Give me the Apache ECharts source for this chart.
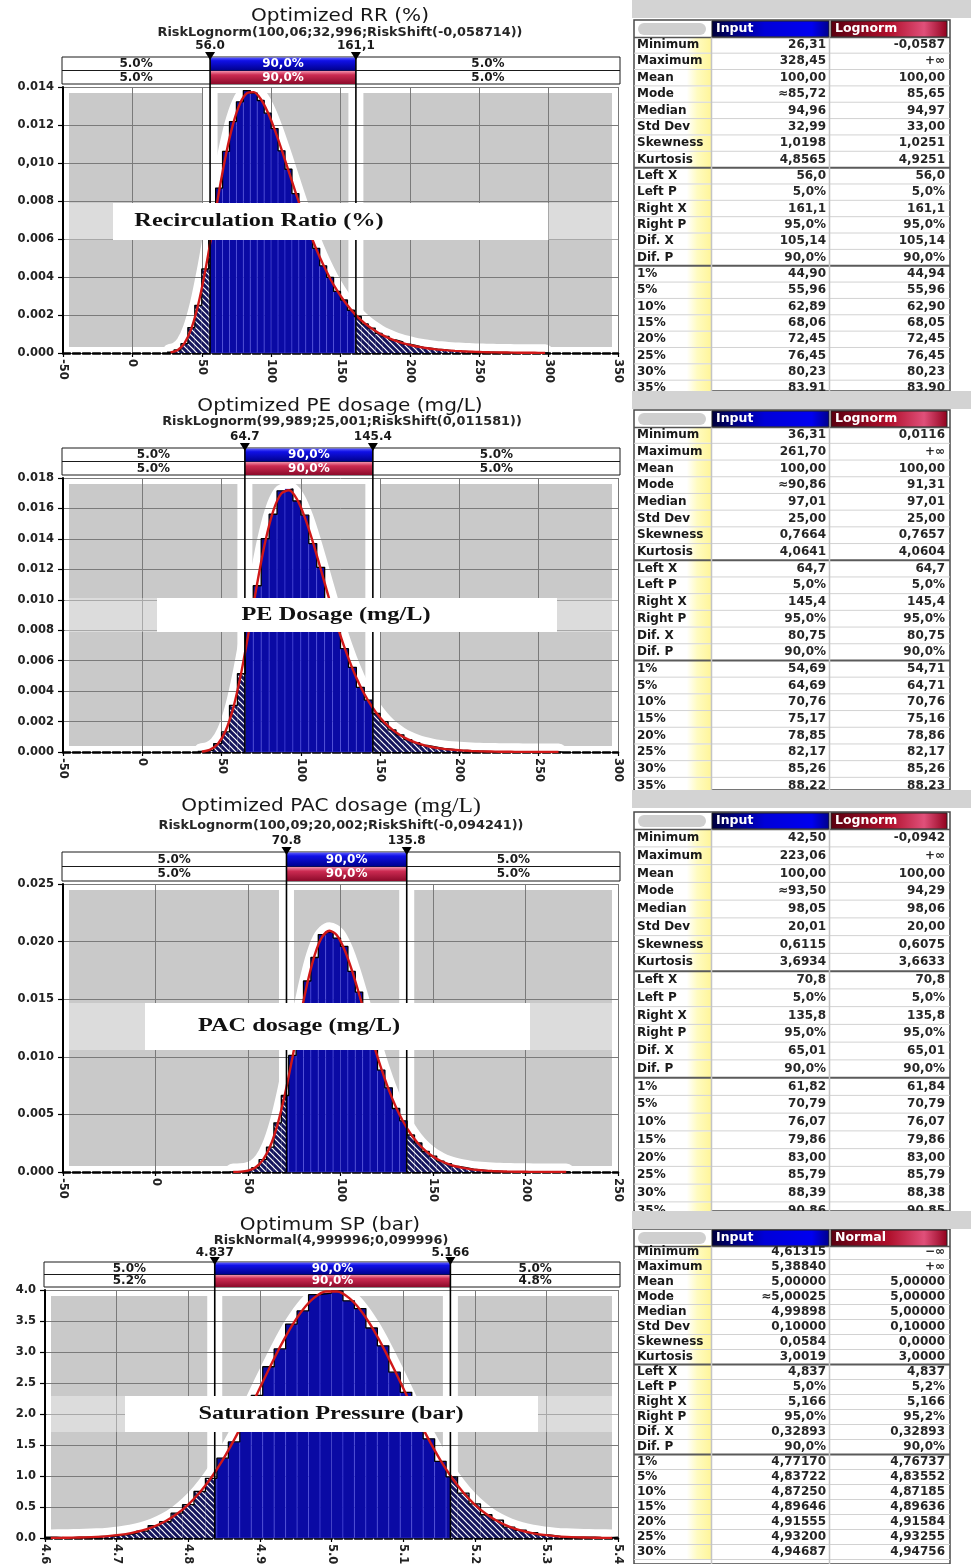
<!DOCTYPE html>
<html><head><meta charset="utf-8">
<script src="https://cdn.jsdelivr.net/npm/echarts@6.0.0/dist/echarts.min.js"></script>
<style>html,body{margin:0;padding:0;background:#fff}#c{width:971px;height:1564px}</style>
</head><body><div id="c"></div>
<script>
// ---------------- DATA ----------------
const chartTitles = ["Optimized RR (%)", "Optimized PE dosage (mg/L)", "Optimized PAC dosage (mg/L)", "Optimum SP (bar)"];
const fitFormulas = ["RiskLognorm(100,06;32,996;RiskShift(-0,058714))", "RiskLognorm(99,989;25,001;RiskShift(0,011581))", "RiskLognorm(100,09;20,002;RiskShift(-0,094241))", "RiskNormal(4,999996;0,099996)"];
const boxLabels = ["Recirculation Ratio (%)", "PE Dosage (mg/L)", "PAC dosage (mg/L)", "Saturation Pressure (bar)"];
const markerValues = [[56.0, 161.1], [64.7, 145.4], [70.8, 135.8], [4.837, 5.166]];
const markerLabels = [["56.0", "161,1"], ["64.7", "145.4"], ["70.8", "135.8"], ["4.837", "5.166"]];
const probTop = [["5.0%", "90,0%", "5.0%"], ["5.0%", "90,0%", "5.0%"], ["5.0%", "90,0%", "5.0%"], ["5.0%", "90,0%", "5.0%"]];
const probBottom = [["5.0%", "90,0%", "5.0%"], ["5.0%", "90,0%", "5.0%"], ["5.0%", "90,0%", "5.0%"], ["5.2%", "90,0%", "4.8%"]];

const xRanges = [[-50, 350, 50], [-50, 300, 50], [-50, 250, 50], [4.6, 5.4, 0.1]];
const yRanges = [[0, 0.014, 0.002], [0, 0.018, 0.002], [0, 0.025, 0.005], [0, 4, 0.5]];
const xTickLabels = [
  ["-50", "0", "50", "100", "150", "200", "250", "300", "350"],
  ["-50", "0", "50", "100", "150", "200", "250", "300"],
  ["-50", "0", "50", "100", "150", "200", "250"],
  ["4.6", "4.7", "4.8", "4.9", "5.0", "5.1", "5.2", "5.3", "5.4"]
];
const yTickLabels = [
  ["0.000", "0.002", "0.004", "0.006", "0.008", "0,010", "0.012", "0.014"],
  ["0.000", "0.002", "0.004", "0.006", "0.008", "0.010", "0.012", "0.014", "0.016", "0.018"],
  ["0.000", "0.005", "0.010", "0.015", "0.020", "0.025"],
  ["0.0", "0.5", "1.0", "1.5", "2.0", "2.5", "3.0", "3.5", "4.0"]
];

// histogram bins: first bin lower edge and bin width per panel
const binStarts = [25, 35, 40, 4.6];
const binWidths = [5, 5, 4, 0.016];

const rrHist = [0.00004, 0.00016, 0.00049, 0.00134, 0.00251, 0.00442, 0.00631, 0.00868, 0.01061, 0.01218,
  0.01322, 0.01381, 0.01368, 0.01329, 0.01262, 0.01181, 0.01064, 0.00967, 0.00839, 0.00746,
  0.00632, 0.00551, 0.00459, 0.00398, 0.00324, 0.00279, 0.00225, 0.00192, 0.00153, 0.00131,
  0.00103, 0.00088, 0.00069, 0.00059, 0.00046, 0.00039, 0.00030, 0.00026, 0.00020, 0.00017,
  0.00013, 0.00011, 0.00009, 0.00007, 0.00006, 0.00005, 0.00004, 0.00003, 0.00003, 0.00002,
  0.00002, 0.00001, 0.00001, 0.00001, 0.00001];
const rrFit = [0.00003, 0.000146, 0.000508, 0.00128, 0.002563, 0.004321, 0.006386, 0.008516, 0.01046, 0.012033,
  0.013112, 0.013668, 0.013729, 0.01337, 0.012684, 0.011769, 0.010716, 0.009599, 0.008481, 0.007403,
  0.006396, 0.005475, 0.004652, 0.003924, 0.003292, 0.002747, 0.002283, 0.00189, 0.00156, 0.001284,
  0.001053, 0.000863, 0.000706, 0.000576, 0.00047, 0.000383, 0.000311, 0.000253, 0.000206, 0.000167,
  0.000136, 0.00011, 0.00009, 0.000073, 0.000059, 0.000048, 0.000039, 0.000032, 0.000026, 0.000021,
  0.000017, 0.000014, 0.000011, 0.000009, 0.000007];

const peHist = [0.00004, 0.00013, 0.00055, 0.00132, 0.00306, 0.00514, 0.00829, 0.01092, 0.01401, 0.01562,
  0.01716, 0.01728, 0.01649, 0.01556, 0.01369, 0.01213, 0.01007, 0.00858, 0.00679, 0.00556,
  0.00425, 0.00341, 0.00253, 0.00199, 0.00145, 0.00113, 0.00081, 0.00062, 0.00044, 0.00034,
  0.00023, 0.00018, 0.00012, 0.00010, 0.00006, 0.00005, 0.00003, 0.00003, 0.00002, 0.00001,
  0.00001, 0.00001, 0.00001, 0, 0, 0.00001];
const peFit = [0.000025, 0.000138, 0.000508, 0.001376, 0.00295, 0.005263, 0.008107, 0.0111, 0.013792, 0.015813,
  0.016958, 0.017191, 0.016615, 0.015418, 0.013819, 0.01202, 0.010191, 0.008447, 0.006867, 0.005488,
  0.004323, 0.003359, 0.002582, 0.001964, 0.001483, 0.001111, 0.000827, 0.000612, 0.00045, 0.00033,
  0.000241, 0.000175, 0.000127, 0.000092, 0.000067, 0.000048, 0.000035, 0.000025, 0.000018, 0.000013,
  0.000009, 0.0000065, 0.0000046, 0.0000033, 0.0000023, 0.0000016];

const pacHist = [0.00001, 0.00003, 0.00014, 0.00037, 0.00108, 0.00216, 0.00427, 0.00664, 0.01012, 0.01297,
  0.01658, 0.01862, 0.02061, 0.02083, 0.02031, 0.01958, 0.01741, 0.01562, 0.01309, 0.01121,
  0.00884, 0.00731, 0.00551, 0.00443, 0.00321, 0.00252, 0.00178, 0.00138, 0.00094, 0.00072,
  0.00048, 0.00037, 0.00024, 0.00018, 0.00012, 0.00009, 0.00005, 0.00004, 0.00003, 0.00002,
  0.00001, 0.00001, 0.00001, 0, 0, 0.00001];
const pacFit = [0.000005, 0.0000295, 0.000124, 0.000399, 0.001033, 0.00223, 0.004138, 0.006762, 0.009914, 0.013246,
  0.016341, 0.018808, 0.020379, 0.020947, 0.020555, 0.019362, 0.01759, 0.015475, 0.013231, 0.011029,
  0.008986, 0.007174, 0.005624, 0.004337, 0.003295, 0.002471, 0.00183, 0.001342, 0.000974, 0.000701,
  0.0005, 0.000355, 0.00025, 0.000175, 0.000122, 0.0000844, 0.0000583, 0.00004, 0.0000273, 0.0000185,
  0.0000125, 0.0000084, 0.0000056, 0.0000037, 0.0000025, 0.0000016];

const spHist = [0.0125, 0, 0.0125, 0.0125, 0.025, 0.025, 0.05, 0.075, 0.1125, 0.2,
  0.2625, 0.4, 0.5375, 0.75, 0.9625, 1.2875, 1.55, 1.975, 2.3, 2.7625,
  3.05, 3.45, 3.6625, 3.925, 3.95, 3.9875, 3.825, 3.7, 3.3875, 3.1,
  2.675, 2.35, 1.925, 1.6, 1.2375, 0.9875, 0.725, 0.55, 0.375, 0.2875,
  0.175, 0.125, 0.0875, 0.05, 0.025, 0.0125, 0.0125, 0.0125, 0, 0.0125];
const spFit = [0.00184, 0.00339, 0.00612, 0.01074, 0.0184, 0.03071, 0.04995, 0.07915, 0.1223, 0.18424,
  0.27055, 0.38713, 0.53991, 0.73394, 0.97274, 1.25656, 1.58224, 1.94186, 2.32289, 2.70866,
  3.07853, 3.41047, 3.68273, 3.87617, 3.9767, 3.9767, 3.87617, 3.68273, 3.41047, 3.07853,
  2.70866, 2.32289, 1.94186, 1.58224, 1.25656, 0.97274, 0.73394, 0.53991, 0.38713, 0.27055,
  0.18424, 0.1223, 0.07915, 0.04995, 0.03071, 0.0184, 0.01074, 0.00612, 0.00339, 0.00184];

// statistics tables
const statRowLabels = ["Minimum", "Maximum", "Mean", "Mode", "Median", "Std Dev", "Skewness", "Kurtosis", "Left X", "Left P", "Right X", "Right P", "Dif. X", "Dif. P", "1%", "5%", "10%", "15%", "20%", "25%", "30%", "35%"];
const fitNames = ["Lognorm", "Lognorm", "Lognorm", "Normal"];
const rrInputStats = ["26,31", "328,45", "100,00", "≈85,72", "94,96", "32,99", "1,0198", "4,8565", "56,0", "5,0%", "161,1", "95,0%", "105,14", "90,0%", "44,90", "55,96", "62,89", "68,06", "72,45", "76,45", "80,23", "83,91"];
const rrFitStats = ["-0,0587", "+∞", "100,00", "85,65", "94,97", "33,00", "1,0251", "4,9251", "56,0", "5,0%", "161,1", "95,0%", "105,14", "90,0%", "44,94", "55,96", "62,90", "68,05", "72,45", "76,45", "80,23", "83,90"];
const peInputStats = ["36,31", "261,70", "100,00", "≈90,86", "97,01", "25,00", "0,7664", "4,0641", "64,7", "5,0%", "145,4", "95,0%", "80,75", "90,0%", "54,69", "64,69", "70,76", "75,17", "78,85", "82,17", "85,26", "88,22"];
const peFitStats = ["0,0116", "+∞", "100,00", "91,31", "97,01", "25,00", "0,7657", "4,0604", "64,7", "5,0%", "145,4", "95,0%", "80,75", "90,0%", "54,71", "64,71", "70,76", "75,16", "78,86", "82,17", "85,26", "88,23"];
const pacInputStats = ["42,50", "223,06", "100,00", "≈93,50", "98,05", "20,01", "0,6115", "3,6934", "70,8", "5,0%", "135,8", "95,0%", "65,01", "90,0%", "61,82", "70,79", "76,07", "79,86", "83,00", "85,79", "88,39", "90,86"];
const pacFitStats = ["-0,0942", "+∞", "100,00", "94,29", "98,06", "20,00", "0,6075", "3,6633", "70,8", "5,0%", "135,8", "95,0%", "65,01", "90,0%", "61,84", "70,79", "76,07", "79,86", "83,00", "85,79", "88,38", "90,85"];
const spInputStats = ["4,61315", "5,38840", "5,00000", "≈5,00025", "4,99898", "0,10000", "0,0584", "3,0019", "4,837", "5,0%", "5,166", "95,0%", "0,32893", "90,0%", "4,77170", "4,83722", "4,87250", "4,89646", "4,91555", "4,93200", "4,94687"];
const spFitStats = ["−∞", "+∞", "5,00000", "5,00000", "5,00000", "0,10000", "0,0000", "3,0000", "4,837", "5,2%", "5,166", "95,2%", "0,32893", "90,0%", "4,76737", "4,83552", "4,87185", "4,89636", "4,91584", "4,93255", "4,94756"];

const histValues = [rrHist, peHist, pacHist, spHist];
const fitValues = [rrFit, peFit, pacFit, spFit];
const inputStats = [rrInputStats, peInputStats, pacInputStats, spInputStats];
const fitStats = [rrFitStats, peFitStats, pacFitStats, spFitStats];

// ---------------- LAYOUT ----------------
const gridBoxes = [
  { left: 63, top: 87, width: 555, height: 266, rowH: 13.5, lblOff: 11 },
  { left: 63, top: 478, width: 555, height: 274, rowH: 13.5, lblOff: 11 },
  { left: 63, top: 884, width: 555, height: 288, rowH: 14.5, lblOff: 11 },
  { left: 45, top: 1290, width: 573, height: 248, rowH: 12.5, lblOff: 9 }
];
const titleLayout = [
  { tx: 340, ty: 17, sx: 340, sy: 33 },
  { tx: 340, ty: 407, sx: 342, sy: 422 },
  { tx: 331, ty: 807, sx: 341, sy: 826 },
  { tx: 330, ty: 1226, sx: 331, sy: 1241 }
];
const boxLayout = [
  { x0: 113, y0: 203, x1: 548, y1: 240, tx: 259 },
  { x0: 157, y0: 598, x1: 557, y1: 632, tx: 336 },
  { x0: 145, y0: 1003, x1: 530, y1: 1050, tx: 299 },
  { x0: 125, y0: 1396, x1: 538, y1: 1432, tx: 331 }
];
const tableLayout = [
  { barY: 0, headY: 29, row0: 45, rowH: 16.35, bottom: 391 },
  { barY: 391, headY: 419, row0: 435, rowH: 16.7, bottom: 790 },
  { barY: 790, headY: 821, row0: 838, rowH: 17.75, bottom: 1211 },
  { barY: 1211, headY: 1238, row0: 1252, rowH: 15.0, bottom: 1564 }
];

const BLUE = '#0a0aa4';
const hc = document.createElement('canvas');
hc.width = 6; hc.height = 6;
(function () {
  const g = hc.getContext('2d');
  g.fillStyle = '#14145c'; g.fillRect(0, 0, 6, 6);
  g.strokeStyle = '#ffffff'; g.lineWidth = 1.2;
  g.beginPath();
  g.moveTo(0, 0); g.lineTo(6, 6);
  g.moveTo(-3, 3); g.lineTo(3, 9);
  g.moveTo(3, -3); g.lineTo(9, 3);
  g.stroke();
})();
const hatch = { image: hc, repeat: 'repeat' };
const blueGrad = new echarts.graphic.LinearGradient(0, 0, 0, 1, [
  { offset: 0, color: '#5a5aff' }, { offset: 0.25, color: '#1010e6' }, { offset: 1, color: '#00008c' }]);
const redGrad = new echarts.graphic.LinearGradient(0, 0, 0, 1, [
  { offset: 0, color: '#f391ab' }, { offset: 0.3, color: '#cc2b52' }, { offset: 1, color: '#8c0a2a' }]);

const SANS = '"DejaVu Sans", Verdana, sans-serif';

// ---------------- RENDERERS ----------------
function bandsRender(i) {
  return function (params, api) {
    const cs = params.coordSys;
    const ch = [{ type: 'rect', shape: { x: cs.x, y: cs.y, width: cs.width, height: cs.height }, style: { fill: 'none', stroke: '#fff', lineWidth: 12 } }];
    [api.value(0), api.value(1)].forEach(function (v) {
      const x = api.coord([v, 0])[0];
      ch.push({ type: 'rect', shape: { x: x - 7.5, y: cs.y, width: 15, height: cs.height }, style: { fill: '#fff' } });
    });
    return { type: 'group', children: ch };
  };
}

function histRender(i) {
  const L = markerValues[i][0], R = markerValues[i][1];
  return function (params, api) {
    const x0 = api.value(0), x1 = api.value(1), h = api.value(2);
    if (!(h > 0)) return null;
    const cuts = [x0];
    if (L > x0 && L < x1) cuts.push(L);
    if (R > x0 && R < x1) cuts.push(R);
    cuts.push(x1);
    const ch = [];
    for (let k = 0; k < cuts.length - 1; k++) {
      const a = cuts[k], b = cuts[k + 1], mid = (a + b) / 2;
      const inside = mid >= L && mid <= R;
      const p0 = api.coord([a, h]), p1 = api.coord([b, 0]);
      ch.push({
        type: 'rect',
        shape: { x: p0[0], y: p0[1], width: p1[0] - p0[0], height: p1[1] - p0[1] },
        style: inside ? { fill: BLUE, stroke: 'rgba(110,110,255,0.55)', lineWidth: 0.6 } : { fill: hatch }
      });
    }
    return { type: 'group', children: ch };
  };
}

function overlayRender(i) {
  return function (params, api) {
    const cs = params.coordSys;
    const rh = gridBoxes[i].rowH;
    const xl = api.coord([api.value(0), 0])[0];
    const xr = api.coord([api.value(1), 0])[0];
    const left = cs.x - 1, right = cs.x + cs.width + 2;
    const y1 = cs.y - 3 - 2 * rh, y2 = y1 + rh, yb = cs.y + cs.height;
    const font = 'bold 12px ' + SANS;
    const ch = [];
    ch.push({ type: 'rect', shape: { x: left, y: y1, width: right - left, height: 2 * rh }, style: { fill: '#fff', stroke: '#1a1a1a', lineWidth: 1 } });
    ch.push({ type: 'line', shape: { x1: left, y1: y2, x2: right, y2: y2 }, style: { stroke: '#1a1a1a', lineWidth: 1 } });
    ch.push({ type: 'rect', shape: { x: xl, y: y1 + 0.5, width: xr - xl, height: rh - 0.5 }, style: { fill: blueGrad } });
    ch.push({ type: 'rect', shape: { x: xl, y: y2 + 0.5, width: xr - xl, height: rh - 0.5 }, style: { fill: redGrad } });
    const cxs = [(left + xl) / 2, (xl + xr) / 2, (xr + right) / 2];
    for (let k = 0; k < 3; k++) {
      ch.push({ type: 'text', x: cxs[k], y: y1 + rh / 2 + 0.5, style: { text: probTop[i][k], font: font, fill: k === 1 ? '#fff' : '#1a1a1a', align: 'center', verticalAlign: 'middle' } });
      ch.push({ type: 'text', x: cxs[k], y: y2 + rh / 2 + 0.5, style: { text: probBottom[i][k], font: font, fill: k === 1 ? '#fff' : '#1a1a1a', align: 'center', verticalAlign: 'middle' } });
    }
    [xl, xr].forEach(function (x, m) {
      ch.push({ type: 'line', shape: { x1: x, y1: y1 - 3, x2: x, y2: yb }, style: { stroke: '#000', lineWidth: 1.6 } });
      ch.push({ type: 'polygon', shape: { points: [[x - 5, y1 - 5], [x + 5, y1 - 5], [x, y1 + 3]] }, style: { fill: '#000' } });
      ch.push({ type: 'text', x: x, y: y1 - gridBoxes[i].lblOff, style: { text: markerLabels[i][m], font: font, fill: '#1a1a1a', align: 'center', verticalAlign: 'middle' } });
    });
    return { type: 'group', children: ch };
  };
}

// ---------------- OPTION ----------------
const grids = [], xAxes = [], yAxes = [], series = [], elements = [];

for (let i = 0; i < 4; i++) {
  const gb = gridBoxes[i];
  grids.push({ left: gb.left, top: gb.top, width: gb.width, height: gb.height, show: true, backgroundColor: '#c9c9c9', borderWidth: 0, containLabel: false, outerBoundsMode: 'none' });
  const xr = xRanges[i], yr = yRanges[i];
  xAxes.push({
    type: 'value', gridIndex: i, min: xr[0], max: xr[1], interval: xr[2], z: 3,
    axisLine: { show: true, onZero: false, lineStyle: { color: '#000', width: 2.5, type: [7, 3] } },
    axisTick: { show: true, length: 4, lineStyle: { color: '#000', width: 1.2 } },
    axisLabel: {
      rotate: -90, margin: 6, color: '#222', fontWeight: 'bold', fontSize: 11.5, fontFamily: SANS,
      formatter: (function (labels, mn, step) { return function (v) { return labels[Math.round((v - mn) / step)]; }; })(xTickLabels[i], xr[0], xr[2])
    },
    splitLine: { show: true, lineStyle: { color: '#7a7a7a', width: 1 } }
  });
  yAxes.push({
    type: 'value', gridIndex: i, min: yr[0], max: yr[1], interval: yr[2], z: 3,
    axisLine: { show: true, onZero: false, lineStyle: { color: '#000', width: 2 } },
    axisTick: { show: true, length: 5, lineStyle: { color: '#000', width: 1.2 } },
    axisLabel: {
      margin: 9, color: '#222', fontWeight: 'bold', fontSize: 11.5, fontFamily: SANS,
      formatter: (function (labels, mn, step) { return function (v) { return labels[Math.round((v - mn) / step)]; }; })(yTickLabels[i], yr[0], yr[2])
    },
    splitLine: { show: true, lineStyle: { color: '#7a7a7a', width: 1 } }
  });

  const start = binStarts[i], w = binWidths[i];
  const histData = histValues[i].map(function (h, k) { return [start + k * w, start + (k + 1) * w, h]; });
  const fitData = fitValues[i].map(function (v, k) { return [start + (k + 0.5) * w, v]; });
  const stepData = histValues[i].map(function (h, k) { return [start + k * w, h]; });
  stepData.push([start + histValues[i].length * w, histValues[i][histValues[i].length - 1]]);

  series.push({ type: 'custom', xAxisIndex: i, yAxisIndex: i, z: 1, silent: true, renderItem: bandsRender(i), data: [markerValues[i]] });
  series.push({ type: 'line', xAxisIndex: i, yAxisIndex: i, z: 1, silent: true, smooth: 0.3, showSymbol: false, data: fitData,
    lineStyle: { color: '#fff', width: 17, cap: 'round', join: 'round' }, areaStyle: { color: '#fff', opacity: 1 } });
  series.push({ type: 'custom', xAxisIndex: i, yAxisIndex: i, z: 5, silent: true, renderItem: histRender(i), encode: { x: [0, 1], y: 2 }, data: histData });
  series.push({ type: 'line', xAxisIndex: i, yAxisIndex: i, z: 6, silent: true, step: 'end', showSymbol: false, data: stepData,
    lineStyle: { color: '#000', width: 1.3 } });
  series.push({ type: 'line', xAxisIndex: i, yAxisIndex: i, z: 7, silent: true, smooth: 0.3, showSymbol: false, data: fitData,
    lineStyle: { color: '#d01818', width: 2.4 } });
  series.push({ type: 'custom', xAxisIndex: i, yAxisIndex: i, z: 8, silent: true, clip: false, renderItem: overlayRender(i), data: [markerValues[i]] });

  // titles
  const tl = titleLayout[i];
  const t = chartTitles[i];
  if (i === 2) {
    const cut = t.lastIndexOf(' ');
    elements.push({ type: 'text', x: tl.tx, y: tl.ty, scaleX: 1.18, z: 50, style: {
      text: '{a|' + t.slice(0, cut + 1) + '}{b|' + t.slice(cut + 1) + '}', align: 'center', verticalAlign: 'middle',
      rich: { a: { font: '17px ' + SANS, fill: '#161616' }, b: { font: '20px "Liberation Serif", serif', fill: '#161616' } } } });
  } else {
    elements.push({ type: 'text', x: tl.tx, y: tl.ty, scaleX: 1.18, z: 50, style: { text: t, font: '17px ' + SANS, fill: '#161616', align: 'center', verticalAlign: 'middle' } });
  }
  elements.push({ type: 'text', x: tl.sx, y: tl.sy, scaleX: 1.07, z: 50, style: { text: fitFormulas[i], font: '600 12px ' + SANS, fill: '#262626', align: 'center', verticalAlign: 'middle' } });

  // label box
  const bl = boxLayout[i];
  elements.push({ type: 'rect', z: 30, shape: { x: gb.left + 2, y: bl.y0, width: gb.width - 2, height: bl.y1 - bl.y0 }, style: { fill: 'rgba(255,255,255,0.35)' } });
  elements.push({ type: 'rect', z: 31, shape: { x: bl.x0, y: bl.y0, width: bl.x1 - bl.x0, height: bl.y1 - bl.y0 }, style: { fill: '#fff' } });
  elements.push({ type: 'text', z: 32, x: bl.tx, y: (bl.y0 + bl.y1) / 2, scaleX: 1.35, style: { text: boxLabels[i], font: 'bold 18px "Liberation Serif", "DejaVu Serif", serif', fill: '#111', align: 'center', verticalAlign: 'middle' } });
}

// tables
for (let t = 0; t < 4; t++) {
  const L = tableLayout[t];
  const top = L.headY - 9;
  const font = 'bold 12px ' + SANS;
  elements.push({ type: 'rect', z: 40, shape: { x: 634, y: top, width: 316, height: L.bottom - top }, style: { fill: '#fff', stroke: '#4a4a4a', lineWidth: 1.5 } });
  elements.push({ type: 'rect', z: 41, shape: { x: 638, y: L.headY - 6, width: 68, height: 12, r: 6 }, style: { fill: '#cfcfcf' } });
  elements.push({ type: 'rect', z: 41, shape: { x: 712, y: L.headY - 8, width: 117, height: 16 }, style: { stroke: '#222', lineWidth: 1,
    fill: new echarts.graphic.LinearGradient(0, 0, 1, 0, [{ offset: 0, color: '#00003a' }, { offset: 0.45, color: '#0000d8' }, { offset: 0.85, color: '#0000f0' }, { offset: 1, color: '#00008a' }]) } });
  elements.push({ type: 'rect', z: 41, shape: { x: 831, y: L.headY - 8, width: 116, height: 16 }, style: { stroke: '#222', lineWidth: 1,
    fill: new echarts.graphic.LinearGradient(0, 0, 1, 0, [{ offset: 0, color: '#5a0010' }, { offset: 0.5, color: '#b0102c' }, { offset: 0.8, color: '#e0507a' }, { offset: 1, color: '#90001c' }]) } });
  elements.push({ type: 'text', z: 42, x: 716, y: L.headY, style: { text: 'Input', font: 'bold 12.5px ' + SANS, fill: '#fff', align: 'left', verticalAlign: 'middle' } });
  elements.push({ type: 'text', z: 42, x: 835, y: L.headY, style: { text: fitNames[t], font: 'bold 12.5px ' + SANS, fill: '#fff', align: 'left', verticalAlign: 'middle' } });
  elements.push({ type: 'line', z: 42, shape: { x1: 634, y1: L.headY + 8.5, x2: 950, y2: L.headY + 8.5 }, style: { stroke: '#555', lineWidth: 1.5 } });
  const ins = inputStats[t], fts = fitStats[t];
  for (let r = 0; r < ins.length; r++) {
    const cy = L.row0 + r * L.rowH;
    const yt = cy - L.rowH / 2, yb = cy + L.rowH / 2;
    elements.push({ type: 'rect', z: 41, shape: { x: 635, y: yt + 0.5, width: 76, height: L.rowH - 1 }, style: {
      fill: new echarts.graphic.LinearGradient(0, 0, 1, 0, [{ offset: 0, color: '#ffffff' }, { offset: 0.68, color: '#ffffff' }, { offset: 0.82, color: '#fffbc0' }, { offset: 1, color: '#fff59a' }]) } });
    elements.push({ type: 'text', z: 43, x: 637, y: cy, style: { text: statRowLabels[r], font: font, fill: '#1a1a1a', align: 'left', verticalAlign: 'middle' } });
    elements.push({ type: 'text', z: 43, x: 826, y: cy, style: { text: ins[r], font: font, fill: '#262626', align: 'right', verticalAlign: 'middle' } });
    elements.push({ type: 'text', z: 43, x: 945, y: cy, style: { text: fts[r], font: font, fill: '#262626', align: 'right', verticalAlign: 'middle' } });
    const sep = (r === 7 || r === 13);
    elements.push({ type: 'line', z: 42, shape: { x1: 634, y1: yb, x2: 950, y2: yb }, style: { stroke: sep ? '#5a5a5a' : '#d2d2d2', lineWidth: sep ? 2 : 1 } });
  }
  elements.push({ type: 'line', z: 42, shape: { x1: 711.5, y1: L.headY + 8.5, x2: 711.5, y2: L.bottom }, style: { stroke: '#c4c4c4', lineWidth: 1.5 } });
  elements.push({ type: 'line', z: 42, shape: { x1: 829.5, y1: L.headY + 8.5, x2: 829.5, y2: L.bottom }, style: { stroke: '#c4c4c4', lineWidth: 1.5 } });
  elements.push({ type: 'rect', z: 60, shape: { x: 632, y: L.barY, width: 339, height: 18 }, style: { fill: '#d3d3d3' } });
}

const chart = echarts.init(document.getElementById('c'), null, { renderer: 'canvas', width: 971, height: 1564 });
chart.setOption({
  animation: false,
  backgroundColor: '#ffffff',
  grid: grids,
  xAxis: xAxes,
  yAxis: yAxes,
  series: series,
  graphic: { elements: elements }
});
</script>
</body></html>
